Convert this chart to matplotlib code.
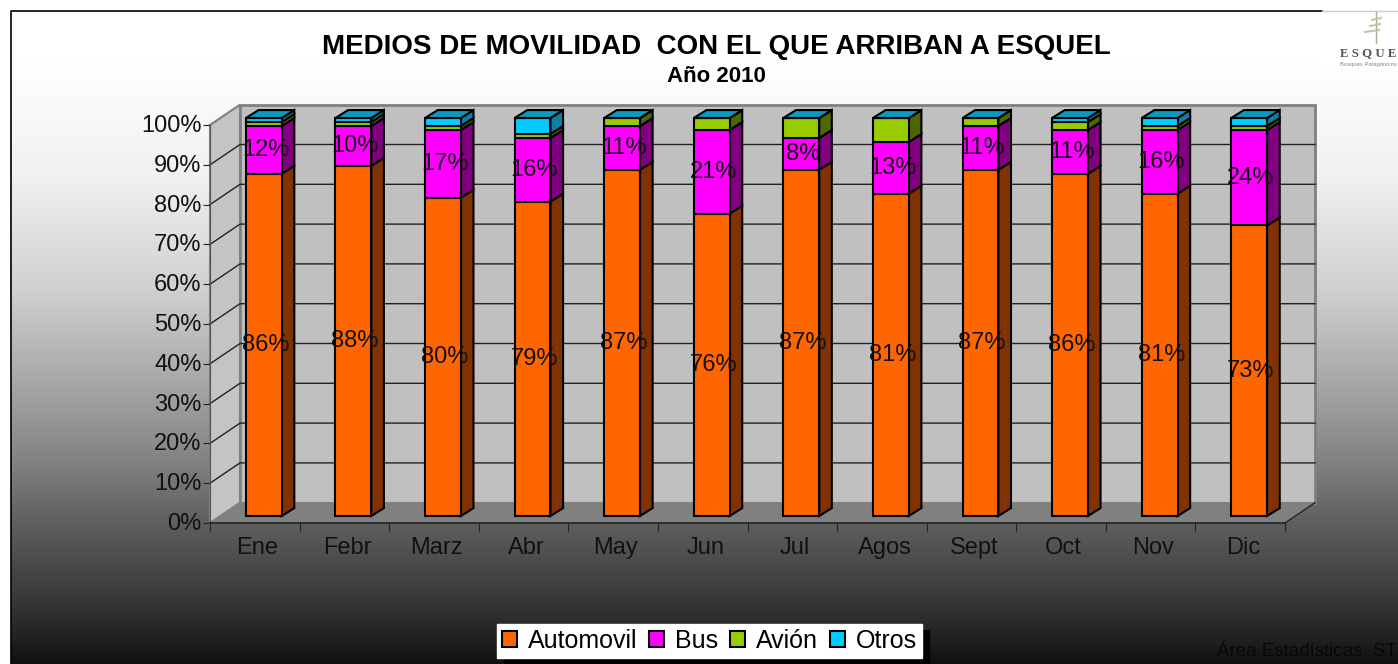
import numpy as np
import matplotlib
matplotlib.use('Agg')
import matplotlib.pyplot as plt
from matplotlib.patches import Polygon, Rectangle
from matplotlib.transforms import ScaledTranslation

plt.rcParams['font.family'] = ['Liberation Sans', 'DejaVu Sans']

meses = ['Ene', 'Febr', 'Marz', 'Abr', 'May', 'Jun', 'Jul', 'Agos', 'Sept', 'Oct', 'Nov', 'Dic']
series = ['Automovil', 'Bus', 'Avión', 'Otros']
automovil = [86, 88, 80, 79, 87, 76, 87, 81, 87, 86, 81, 73]
bus = [12, 10, 17, 16, 11, 21, 8, 13, 11, 11, 16, 24]
avion = [1, 1, 1, 1, 2, 3, 5, 6, 2, 2, 1, 1]
otros = [1, 1, 2, 4, 0, 0, 0, 0, 0, 1, 2, 2]
yticks = [0, 10, 20, 30, 40, 50, 60, 70, 80, 90, 100]

colores = ['#FF6600', '#FF00FF', '#99CC00', '#00CCFF']
lados = ['#803300', '#800080', '#4D6600', '#0A7FA6']
techo = '#0A99BF'

# profundidad del "3D" en unidades de datos (mes, %)
DX = 0.335
DY = 5.1
BAR_W = 0.40
F0 = 0.30   # donde empieza la barra dentro del piso
F1 = 0.72   # donde termina
Y_OFF = 1.76

fig = plt.figure(figsize=(13.98, 6.64), dpi=100, facecolor='white')

# fondo degradado
bg = fig.add_axes([0, 0, 1, 1], zorder=0)
ys = np.array([0, 60, 175, 291, 368, 445, 522, 561, 599, 638, 664]) / 664
vals = np.array([255, 254, 240, 207, 173, 138, 95, 76, 56, 34, 16]) / 255
g = np.interp(np.linspace(0, 1, 664), ys, vals).reshape(-1, 1)
bg.imshow(g, cmap='gray', vmin=0, vmax=1, aspect='auto', extent=[0, 1398, 664, 0])
bg.set_xlim(0, 1398)
bg.set_ylim(664, 0)
bg.axis('off')
bg.add_patch(Rectangle((0, 0), 1398, 11, fc='white', ec='none'))
bg.add_patch(Rectangle((0, 0), 11, 664, fc='white', ec='none'))
bg.plot([11, 11, 1322], [664, 11, 11], color='black', lw=1.2)
bg.plot([1322, 1398], [10.5, 10.5], color='#cccccc', lw=1)
# logo
bg.add_patch(Rectangle((1322, 11), 76, 59, fc='white', ec='none'))
bg.plot([1376, 1376], [12, 43], color='#a3b094', lw=1)
for yy, x0, x1 in [(18, 1372, 1381), (24, 1370, 1380), (30, 1365, 1379)]:
    bg.plot([x0, x1], [yy + 2, yy], color='#b9c5a8', lw=1.4)
bg.text(1340, 53, 'E S Q U E', fontsize=9.3, fontweight='bold', family='Liberation Serif',
        color='#555555', va='center', ha='left')
bg.text(1340, 64.5, 'Bosques Patagónicos', fontsize=4.2, color='#888888', va='center', ha='left')

ax = fig.add_axes([210 / 1398, 1 - 523 / 664, 1075 / 1398, 398 / 664], zorder=1)
ax.patch.set_visible(False)
ax.set_xlim(0, 12)
ax.set_ylim(0, 100)

# paredes y piso
ax.add_patch(Polygon([(DX, DY), (12 + DX, DY), (12 + DX, 100 + DY), (DX, 100 + DY)], closed=True,
                     fc='#C0C0C0', ec='#808080', lw=2, clip_on=False, zorder=1))
ax.add_patch(Polygon([(0, 0), (DX, DY), (DX, 100 + DY), (0, 100)], closed=True,
                     fc='#C4C4C4', ec='#808080', lw=1.5, clip_on=False, zorder=1))
ax.add_patch(Polygon([(0, 0), (12, 0), (12 + DX, DY), (DX, DY)], closed=True,
                     fc='#808080', ec='#808080', lw=1, clip_on=False, zorder=1))
for v in yticks[1:-1]:
    ax.plot([0, DX, 12 + DX], [v, v + DY, v + DY], color='#222222', lw=1, clip_on=False, zorder=2)
ax.plot([12, 12 + DX], [0, DY], color='#222222', lw=1, clip_on=False, zorder=2)

x = np.arange(12) + 0.5
x0 = x - BAR_W / 2 + F0 * DX
x1 = x0 + BAR_W
dx = (F1 - F0) * DX
dy = 0.39 * DY

base = np.zeros(12)
for nombre, vals_s, c, lado in zip(series, [automovil, bus, avion, otros], colores, lados):
    vals_s = np.array(vals_s, dtype=float)
    ax.bar(x0, vals_s, BAR_W, bottom=base + Y_OFF, align='edge', color=c, edgecolor='black',
           lw=1.5, label=nombre, clip_on=False, zorder=4)
    for i in range(12):
        b, t = base[i] + Y_OFF, base[i] + vals_s[i] + Y_OFF
        ax.add_patch(Polygon([(x1[i], b), (x1[i] + dx, b + dy), (x1[i] + dx, t + dy), (x1[i], t)], closed=True,
                             fc=lado, ec='black', lw=1.5, clip_on=False, zorder=3.5))
    base = base + vals_s

for i in range(12):
    t = base[i] + Y_OFF
    ax.add_patch(Polygon([(x0[i], t), (x1[i], t), (x1[i] + dx, t + dy), (x0[i] + dx, t + dy)], closed=True,
                         fc=techo, ec='black', lw=1.5, clip_on=False, zorder=5))

# etiquetas de datos
for i in range(12):
    tx = x[i] + 0.12
    ax.text(tx, Y_OFF + automovil[i] / 2, f'{automovil[i]}%', ha='center', va='center', fontsize=17,
            color='#111111', zorder=6)
    ax.text(tx, Y_OFF + automovil[i] + bus[i] / 2 - 0.1, f'{bus[i]}%', ha='center', va='center', fontsize=17,
            color='#111111', zorder=6)

# ejes
for s in ['top', 'right']:
    ax.spines[s].set_visible(False)
ax.spines['left'].set_color('#555555')
ax.spines['bottom'].set_color('#222222')
ax.spines['bottom'].set_linewidth(1.2)
ax.set_yticks(yticks)
ax.set_yticklabels([f'{v}%' for v in yticks], fontsize=17, color='#111111')
ax.tick_params(axis='y', length=5, pad=1, color='#222222')
for lab in ax.get_yticklabels():
    lab.set_transform(lab.get_transform() + ScaledTranslation(0, 1.5 / 100, fig.dpi_scale_trans))
ax.set_xticks(np.arange(13))
ax.set_xticklabels([])
ax.set_xticks(x + 0.03, minor=True)
ax.set_xticklabels(meses, minor=True, fontsize=17, color='#111111')
ax.tick_params(axis='x', which='major', length=6, color='#222222')
ax.tick_params(axis='x', which='minor', length=0, pad=10)

# titulos
fig.text(716 / 1398, 1 - 47.5 / 664, 'MEDIOS DE MOVILIDAD  CON EL QUE ARRIBAN A ESQUEL', ha='center', va='center',
         fontsize=20, fontweight='bold', color='black', zorder=5)
fig.text(716 / 1398, 1 - 76.5 / 664, 'Año 2010', ha='center', va='center', fontsize=16, fontweight='bold',
         color='black', zorder=5)
fig.text(1217 / 1398, 1 - 651 / 664, 'Área Estadísticas  ST', ha='left', va='center', fontsize=13.5,
         color='#080808', zorder=5)

h, l = ax.get_legend_handles_labels()
leg = fig.legend(h, l, loc='center', bbox_to_anchor=(709.5 / 1398, 1 - 640.5 / 664), ncol=4, fontsize=18,
                 frameon=True, fancybox=False, shadow={'color': 'black', 'alpha': 1, 'ox': 5, 'oy': -5},
                 facecolor='white', edgecolor='white', framealpha=1, handlelength=0.6, handleheight=0.6,
                 handletextpad=0.45, columnspacing=0.46, borderpad=0.2, borderaxespad=0)
leg.set_zorder(6)

fig.savefig('out.png', dpi=100)
